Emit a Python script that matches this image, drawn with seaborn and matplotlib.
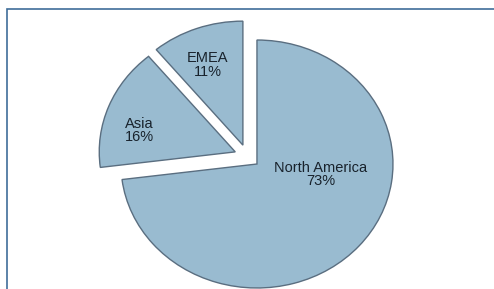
import numpy as np
import seaborn as sns
import matplotlib
matplotlib.use('Agg')
import matplotlib.pyplot as plt
from matplotlib.patches import Rectangle

regions = ['North America', 'Asia', 'EMEA']
shares = [73, 16, 11]

sns.set_theme(style='white')
plt.rcParams['font.family'] = ['Liberation Sans', 'DejaVu Sans']

fill = '#99bbd0'
edge = '#5a6e80'

fig = plt.figure(figsize=(4.94, 2.89), dpi=100)
ax = fig.add_axes([0, 0, 1, 1])
ax.set_axis_off()

wedges, _ = ax.pie(shares, startangle=90, counterclock=False, radius=1.0,
                   explode=[0.095] * len(shares), colors=[fill] * len(shares),
                   wedgeprops=dict(edgecolor=edge, linewidth=1.0))

# label offsets (data units) from each wedge apex
label_off = [(0.467, -0.085), (-0.708, 0.173), (-0.257, 0.649)]
for w, name, pct, (dx, dy) in zip(wedges, regions, shares, label_off):
    cx, cy = w.center
    ax.text(cx + dx, cy + dy, f'{name}\n{pct}%', ha='center', va='center',
            fontsize=10.5, color='#18222c', linespacing=0.98)

# the original pie is slightly stretched horizontally
ax.set_aspect('auto')
ax.set_xlim(-1.818, 1.814)
ax.set_ylim(-1.071, 1.26)

# outer frame, clipped by the image border on right and bottom
fig.add_artist(Rectangle((7 / 494, -0.5), 2, 1 - 9 / 289 + 0.5, transform=fig.transFigure,
                         fill=False, edgecolor='#3f6d99', linewidth=1.2))

fig.savefig('out.png', dpi=100)
